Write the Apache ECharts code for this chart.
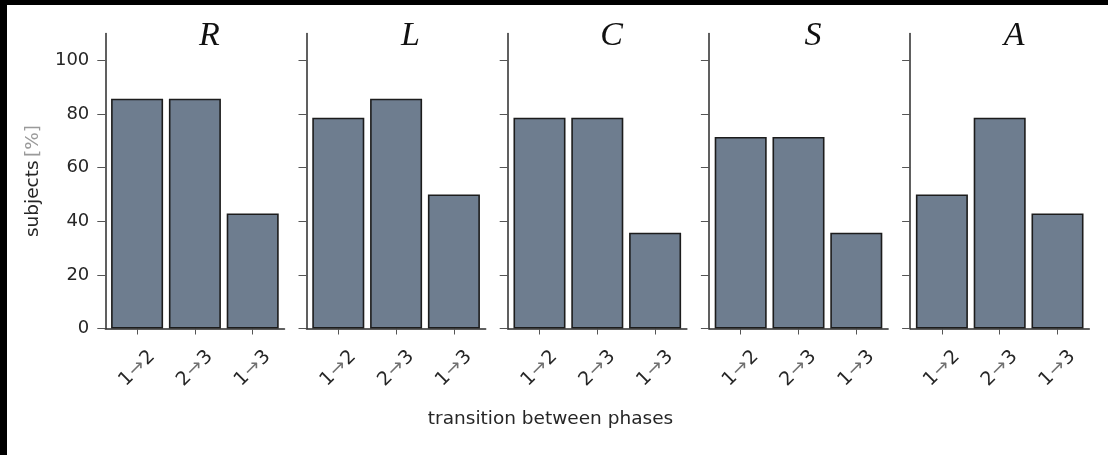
<!DOCTYPE html>
<html>
<head>
<meta charset="utf-8">
<script src="https://cdn.jsdelivr.net/npm/echarts@6/dist/echarts.min.js"></script>
<style>
  html, body { margin: 0; padding: 0; background: #000; width: 1108px; height: 455px; overflow: hidden; }
  #chart { position: absolute; left: 7px; top: 5px; width: 1101px; height: 450px; background: #fff; }
</style>
</head>
<body>
<div id="chart"></div>
<script>
// ---- data ----
const panels = ['R', 'L', 'C', 'S', 'A'];
const categories = ['1→2', '2→3', '1→3'];
const valuesR = [85.7, 85.7, 42.9];
const valuesL = [78.6, 85.7, 50.0];
const valuesC = [78.6, 78.6, 35.7];
const valuesS = [71.4, 71.4, 35.7];
const valuesA = [50.0, 78.6, 42.9];
const yTicks = [0, 20, 40, 60, 80, 100];
const xLabel = 'transition between phases';
const yLabel = 'subjects';
const yUnit = '[%]';

const panelValues = [valuesR, valuesL, valuesC, valuesS, valuesA];

// ---- layout (chart coordinates; chart is offset by 7,5 inside page) ----
const OX = 7, OY = 5;
const spine0 = 105.3 - OX;
const panelStep = 201.2;
const gridW = 179.2;
const gridTop = 33.5 - OY;
const gridBottom = 450 - (328.5 - OY);
const xMin = -0.55, xMax = 2.55;
const barPx = 0.9 * gridW / (xMax - xMin);

const grids = [], xAxes = [], yAxes = [], series = [], graphics = [];
const catIdx = categories.map((c, i) => i);

panels.forEach((p, i) => {
  const left = spine0 + panelStep * i;
  grids.push({ left: left, top: gridTop, width: gridW, bottom: gridBottom, containLabel: false });
  xAxes.push({
    type: 'value', gridIndex: i, min: xMin, max: xMax,
    splitLine: { show: false },
    axisLine: { show: true, onZero: false, lineStyle: { color: '#2b2b2b', width: 1.5 } },
    axisTick: { show: true, length: 6, customValues: catIdx, lineStyle: { color: '#555', width: 1 } },
    axisLabel: {
      show: true, customValues: catIdx, rotate: 45, align: 'center', verticalAlign: 'middle', margin: 40,
      formatter: function (v) {
        const c = categories[Math.round(v)];
        if (c === undefined) return '';
        const parts = c.split('→');
        return '{d|' + parts[0] + '}{a|→}{d|' + parts[1] + '}';
      },
      rich: {
        d: { fontFamily: 'DejaVu Sans', fontSize: 19, color: '#262626' },
        a: { fontFamily: 'DejaVu Sans', fontSize: 19, color: '#707070', padding: [0, 1, 0, 1] }
      }
    }
  });
  const yA = {
    type: 'value', gridIndex: i, min: 0, max: 110,
    splitLine: { show: false },
    axisLine: { show: true, onZero: false, lineStyle: { color: '#2b2b2b', width: 1.5 } },
    axisTick: { show: true, length: 8, customValues: yTicks, lineStyle: { color: '#555', width: 1 } },
    axisLabel: {
      show: i === 0, customValues: yTicks, margin: 16,
      fontFamily: 'DejaVu Sans', fontSize: 18, color: '#262626'
    }
  };
  if (i === 0) {
    yA.name = '{n|' + yLabel + '} {u|' + yUnit + '}';
    yA.nameLocation = 'middle';
    yA.nameGap = 63;
    yA.nameRotate = 90;
    yA.nameTextStyle = {
      rich: {
        n: { fontFamily: 'DejaVu Sans', fontSize: 18.5, color: '#262626' },
        u: { fontFamily: 'DejaVu Sans', fontSize: 18.5, color: '#9a9a9a' }
      }
    };
  }
  yAxes.push(yA);
  series.push({
    type: 'bar', xAxisIndex: i, yAxisIndex: i,
    barWidth: barPx,
    data: panelValues[i].map((v, k) => [k, v]),
    itemStyle: { color: '#6e7d8f', borderColor: '#1c1c1c', borderWidth: 1.6 },
    silent: true
  });
  graphics.push({
    type: 'text', x: 105.3 + 104 + panelStep * i - OX, y: 36 - OY,
    style: {
      text: p, fontFamily: 'Liberation Serif', fontStyle: 'italic', fontSize: 34,
      fill: '#111', align: 'center', verticalAlign: 'middle'
    }
  });
});

graphics.push({
  type: 'text', x: 550.5 - OX, y: 419 - OY,
  style: {
    text: xLabel, fontFamily: 'DejaVu Sans', fontSize: 18.5, fill: '#262626',
    align: 'center', verticalAlign: 'middle'
  }
});

const chart = echarts.init(document.getElementById('chart'), null, { renderer: 'canvas' });
chart.setOption({
  animation: false,
  backgroundColor: '#fff',
  grid: grids,
  xAxis: xAxes,
  yAxis: yAxes,
  series: series,
  graphic: graphics
});
</script>
</body>
</html>
